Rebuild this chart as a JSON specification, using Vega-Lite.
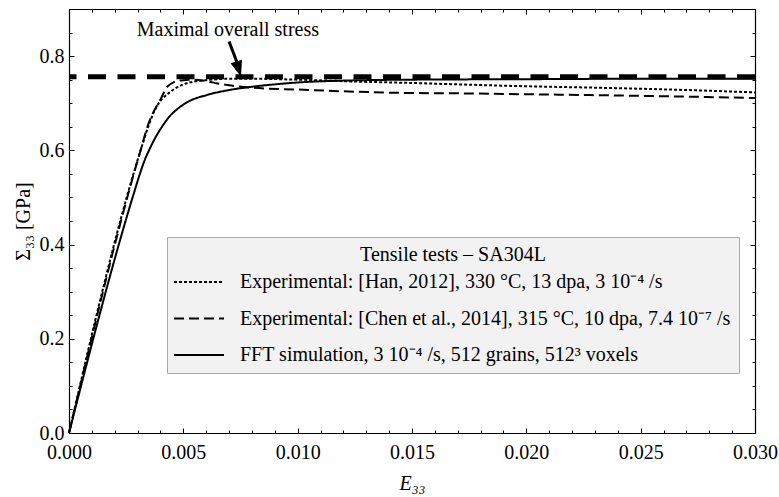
{
  "$schema": "https://vega.github.io/schema/vega-lite/v6.json",
  "width": 686,
  "height": 424,
  "autosize": {"type": "none"},
  "padding": {"left": 69, "top": 9, "right": 24, "bottom": 64},
  "background": "white",
  "config": {
    "font": "Liberation Serif",
    "view": {"stroke": null},
    "axis": {
      "grid": false,
      "domainColor": "black",
      "domainWidth": 1.2,
      "tickColor": "black",
      "tickWidth": 1,
      "labelColor": "black",
      "labelFontSize": 20,
      "labelFont": "Liberation Serif",
      "titleColor": "black",
      "titleFontSize": 20,
      "titleFontWeight": "normal",
      "titleFont": "Liberation Serif",
      "labelFlush": false,
      "labelOverlap": false,
      "labelBound": false
    }
  },
  "resolve": {"axis": {"x": "independent", "y": "independent"}},
  "layer": [
    {
      "data": {
        "values": [
          {"series": "Han", "e": 0, "s": 0},
          {"series": "Han", "e": 0.0031, "s": 0.595},
          {"series": "Han", "e": 0.0035, "s": 0.655},
          {"series": "Han", "e": 0.0038, "s": 0.69},
          {"series": "Han", "e": 0.004, "s": 0.705},
          {"series": "Han", "e": 0.0042, "s": 0.715},
          {"series": "Han", "e": 0.0044, "s": 0.723},
          {"series": "Han", "e": 0.0047, "s": 0.733},
          {"series": "Han", "e": 0.005, "s": 0.74},
          {"series": "Han", "e": 0.0055, "s": 0.746},
          {"series": "Han", "e": 0.006, "s": 0.749},
          {"series": "Han", "e": 0.007, "s": 0.752},
          {"series": "Han", "e": 0.008, "s": 0.752},
          {"series": "Han", "e": 0.01, "s": 0.75},
          {"series": "Han", "e": 0.0125, "s": 0.746},
          {"series": "Han", "e": 0.015, "s": 0.743},
          {"series": "Han", "e": 0.017, "s": 0.74},
          {"series": "Han", "e": 0.02, "s": 0.736},
          {"series": "Han", "e": 0.023, "s": 0.733},
          {"series": "Han", "e": 0.027, "s": 0.728},
          {"series": "Han", "e": 0.03, "s": 0.723},
          {"series": "Chen", "e": 0, "s": 0},
          {"series": "Chen", "e": 0.0031, "s": 0.595},
          {"series": "Chen", "e": 0.0035, "s": 0.66},
          {"series": "Chen", "e": 0.004, "s": 0.708},
          {"series": "Chen", "e": 0.0043, "s": 0.735},
          {"series": "Chen", "e": 0.0046, "s": 0.745},
          {"series": "Chen", "e": 0.005, "s": 0.749},
          {"series": "Chen", "e": 0.0055, "s": 0.75},
          {"series": "Chen", "e": 0.006, "s": 0.747},
          {"series": "Chen", "e": 0.0065, "s": 0.742},
          {"series": "Chen", "e": 0.007, "s": 0.738},
          {"series": "Chen", "e": 0.008, "s": 0.733},
          {"series": "Chen", "e": 0.01, "s": 0.729},
          {"series": "Chen", "e": 0.0145, "s": 0.722},
          {"series": "Chen", "e": 0.017, "s": 0.721},
          {"series": "Chen", "e": 0.02, "s": 0.719},
          {"series": "Chen", "e": 0.0232, "s": 0.717},
          {"series": "Chen", "e": 0.027, "s": 0.714},
          {"series": "Chen", "e": 0.03, "s": 0.711},
          {"series": "FFT", "e": 0, "s": 0},
          {"series": "FFT", "e": 0.0028, "s": 0.503},
          {"series": "FFT", "e": 0.0031, "s": 0.55},
          {"series": "FFT", "e": 0.0033, "s": 0.578},
          {"series": "FFT", "e": 0.0035, "s": 0.6},
          {"series": "FFT", "e": 0.0037, "s": 0.62},
          {"series": "FFT", "e": 0.004, "s": 0.645},
          {"series": "FFT", "e": 0.0044, "s": 0.672},
          {"series": "FFT", "e": 0.0048, "s": 0.69},
          {"series": "FFT", "e": 0.0052, "s": 0.703},
          {"series": "FFT", "e": 0.006, "s": 0.717},
          {"series": "FFT", "e": 0.007, "s": 0.728},
          {"series": "FFT", "e": 0.008, "s": 0.735},
          {"series": "FFT", "e": 0.009, "s": 0.74},
          {"series": "FFT", "e": 0.01, "s": 0.744},
          {"series": "FFT", "e": 0.012, "s": 0.748},
          {"series": "FFT", "e": 0.015, "s": 0.75},
          {"series": "FFT", "e": 0.02, "s": 0.751},
          {"series": "FFT", "e": 0.025, "s": 0.752},
          {"series": "FFT", "e": 0.03, "s": 0.752}
        ]
      },
      "mark": {"type": "line", "strokeWidth": 2, "color": "black", "interpolate": "monotone"},
      "encoding": {
        "x": {
          "field": "e", "type": "quantitative",
          "scale": {"domain": [0, 0.03], "nice": false, "zero": false},
          "axis": {
            "orient": "bottom",
            "values": [0, 0.001, 0.002, 0.003, 0.004, 0.005, 0.006, 0.007, 0.008, 0.009, 0.01, 0.011, 0.012, 0.013, 0.014, 0.015, 0.016, 0.017, 0.018, 0.019, 0.02, 0.021, 0.022, 0.023, 0.024, 0.025, 0.026, 0.027, 0.028, 0.029, 0.03],
            "labelExpr": "abs(datum.value*200 - round(datum.value*200)) < 1e-6 ? format(datum.value, '.3f') : ''",
            "tickSize": {"condition": {"test": "abs(datum.value*200 - round(datum.value*200)) < 1e-6", "value": -5}, "value": -3},
            "labelPadding": 14,
            "title": "E₃₃",
            "titleFontStyle": "italic",
            "titlePadding": 9
          }
        },
        "y": {
          "field": "s", "type": "quantitative",
          "scale": {"domain": [0, 0.9], "nice": false, "zero": false},
          "axis": {
            "orient": "left",
            "values": [0, 0.05, 0.1, 0.15, 0.2, 0.25, 0.3, 0.35, 0.4, 0.45, 0.5, 0.55, 0.6, 0.65, 0.7, 0.75, 0.8, 0.85, 0.9],
            "labelExpr": "abs(datum.value*5 - round(datum.value*5)) < 1e-6 ? format(datum.value, '.1f') : ''",
            "tickSize": {"condition": {"test": "abs(datum.value*5 - round(datum.value*5)) < 1e-6", "value": -5}, "value": -3},
            "labelPadding": 10,
            "title": "Σ₃₃ [GPa]",
            "titlePadding": 6
          }
        },
        "strokeDash": {
          "field": "series", "type": "nominal",
          "scale": {"domain": ["Han", "Chen", "FFT"], "range": [[3, 2], [10, 5], [1, 0]]},
          "legend": {
            "orient": "none",
            "legendX": 98,
            "legendY": 228,
            "title": "Tensile tests – SA304L",
            "titleFontSize": 20,
            "titleFontWeight": "normal",
            "titleColor": "black",
            "titleAnchor": "middle",
            "titleAlign": "center",
            "titleLimit": 1000,
            "titlePadding": 6,
            "padding": 8,
            "rowPadding": 15.5,
            "labelFontSize": 20,
            "labelColor": "black",
            "labelLimit": 1000,
            "labelOffset": 30,
            "symbolOffset": 13,
            "symbolType": "M-2.5,0H2.5",
            "symbolSize": 400,
            "symbolStrokeWidth": 2,
            "symbolStrokeColor": "black",
            "fillColor": "#f2f2f2",
            "strokeColor": "#aaaaaa",
            "labelExpr": "datum.label == 'Han' ? 'Experimental: [Han, 2012], 330 °C, 13 dpa, 3 10⁻⁴ /s' : datum.label == 'Chen' ? 'Experimental: [Chen et al., 2014], 315 °C, 10 dpa, 7.4 10⁻⁷ /s' : 'FFT simulation, 3 10⁻⁴ /s, 512 grains, 512³ voxels'"
          }
        }
      }
    },
    {
      "data": {"values": [{"max": 0.756}]},
      "mark": {"type": "rule", "strokeWidth": 5, "strokeDash": [18, 11.5], "color": "black"},
      "encoding": {
        "y": {"field": "max", "type": "quantitative", "scale": {"domain": [0, 0.9], "nice": false, "zero": false}, "axis": null}
      }
    },
    {
      "data": {"values": [{"x0": 0.007, "y0": 0.831, "x1": 0.0074, "y1": 0.78}]},
      "mark": {"type": "rule", "strokeWidth": 3, "color": "black"},
      "encoding": {
        "x": {
          "field": "x0", "type": "quantitative",
          "scale": {"domain": [0, 0.03], "nice": false, "zero": false},
          "axis": {
            "orient": "top",
            "values": [0, 0.001, 0.002, 0.003, 0.004, 0.005, 0.006, 0.007, 0.008, 0.009, 0.01, 0.011, 0.012, 0.013, 0.014, 0.015, 0.016, 0.017, 0.018, 0.019, 0.02, 0.021, 0.022, 0.023, 0.024, 0.025, 0.026, 0.027, 0.028, 0.029, 0.03],
            "labels": false,
            "title": null,
            "tickSize": {"condition": {"test": "abs(datum.value*200 - round(datum.value*200)) < 1e-6", "value": -5}, "value": -3}
          }
        },
        "y": {
          "field": "y0", "type": "quantitative",
          "scale": {"domain": [0, 0.9], "nice": false, "zero": false},
          "axis": {
            "orient": "right",
            "values": [0, 0.05, 0.1, 0.15, 0.2, 0.25, 0.3, 0.35, 0.4, 0.45, 0.5, 0.55, 0.6, 0.65, 0.7, 0.75, 0.8, 0.85, 0.9],
            "labels": false,
            "title": null,
            "tickSize": {"condition": {"test": "abs(datum.value*5 - round(datum.value*5)) < 1e-6", "value": -5}, "value": -3}
          }
        },
        "x2": {"field": "x1"},
        "y2": {"field": "y1"}
      }
    },
    {
      "data": {"values": [{"x": 0.00752, "y": 0.756}]},
      "mark": {"type": "point", "shape": "M0,0L-0.6,-1.6L0.6,-1.6Z", "size": 400, "angle": -17, "filled": true, "opacity": 1, "color": "black"},
      "encoding": {
        "x": {"field": "x", "type": "quantitative", "scale": {"domain": [0, 0.03], "nice": false, "zero": false}, "axis": null},
        "y": {"field": "y", "type": "quantitative", "scale": {"domain": [0, 0.9], "nice": false, "zero": false}, "axis": null}
      }
    },
    {
      "data": {"values": [{"x": 0.00695, "y": 0.8426, "label": "Maximal overall stress"}]},
      "mark": {"type": "text", "fontSize": 20, "font": "Liberation Serif", "align": "center", "baseline": "alphabetic", "color": "black"},
      "encoding": {
        "x": {"field": "x", "type": "quantitative", "scale": {"domain": [0, 0.03], "nice": false, "zero": false}, "axis": null},
        "y": {"field": "y", "type": "quantitative", "scale": {"domain": [0, 0.9], "nice": false, "zero": false}, "axis": null},
        "text": {"field": "label"}
      }
    }
  ]
}
